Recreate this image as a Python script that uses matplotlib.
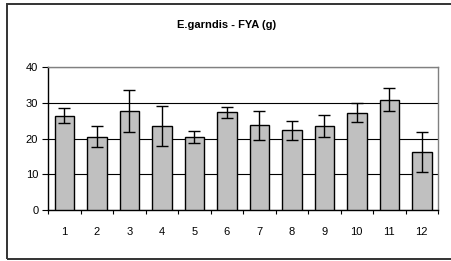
import matplotlib.pyplot as plt
from matplotlib.patches import Rectangle

# bar means and error (+/-)
labels = ['1', '2', '3', '4', '5', '6', '7', '8', '9', '10', '11', '12']
means = [26.4, 20.5, 27.8, 23.6, 20.5, 27.3, 23.7, 22.3, 23.6, 27.2, 30.9, 16.2]
errors = [2.0, 3.0, 5.9, 5.6, 1.7, 1.6, 4.1, 2.7, 3.1, 2.6, 3.2, 5.7]
yticks = [0, 10, 20, 30, 40]

plt.rcParams['font.family'] = ['Liberation Sans', 'DejaVu Sans']

W, H = 451, 261
fig = plt.figure(figsize=(W / 100, H / 100), dpi=100)

# chart area border (cut off on the right like the source image)
fig.patches.append(Rectangle((7.5 / W, 1 - 258.5 / H), 460 / W, 254.5 / H,
                             transform=fig.transFigure, fill=False,
                             edgecolor='#333333', linewidth=1.4))

ax = fig.add_axes([48 / W, 1 - 210 / H, 390 / W, 143 / H])

x = list(range(len(labels)))
ax.bar(x, means, width=0.6, color='#c0c0c0', edgecolor='black', linewidth=1.0, zorder=3)
ax.errorbar(x, means, yerr=errors, fmt='none', ecolor='black', elinewidth=1.0,
            capsize=4, capthick=1.0, zorder=4)

ax.set_xlim(-0.5, len(labels) - 0.5)
ax.set_ylim(0, 40)
ax.set_yticks(yticks)
ax.set_yticklabels([str(v) for v in yticks])
ax.set_xticks(x)
ax.set_xticklabels(labels)
ax.set_xticks([i - 0.5 for i in range(len(labels) + 1)], minor=True)

ax.grid(axis='y', color='black', linewidth=0.8, zorder=0)
ax.tick_params(axis='x', which='major', length=0, pad=12, labelsize=8)
ax.tick_params(axis='x', which='minor', length=3, width=0.8, direction='out')
ax.tick_params(axis='y', length=4, width=0.8, pad=3, labelsize=8)

for s in ['top', 'right']:
    ax.spines[s].set_color('#808080')
    ax.spines[s].set_linewidth(1.0)
for s in ['left', 'bottom']:
    ax.spines[s].set_color('black')
    ax.spines[s].set_linewidth(1.0)

fig.text(227 / W, 1 - 25 / H, 'E.garndis - FYA (g)', ha='center', va='center',
         fontsize=8, fontweight='bold')

plt.savefig('out.png', dpi=100)
